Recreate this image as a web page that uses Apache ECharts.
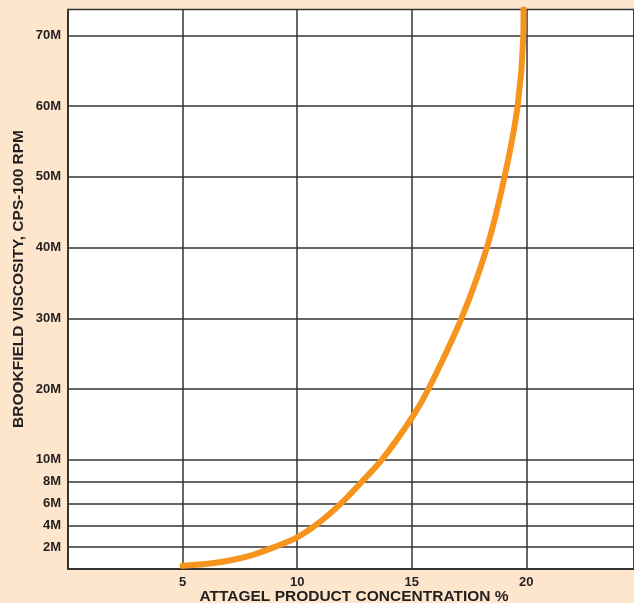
<!DOCTYPE html>
<html>
<head>
<meta charset="utf-8">
<script src="https://cdn.jsdelivr.net/npm/echarts@6/dist/echarts.min.js"></script>
<style>
html,body{margin:0;padding:0;background:#FDE6CC;}
#chart{width:634px;height:603px;}
</style>
</head>
<body>
<div id="chart"></div>
<script>
// ---- data ----
const xTickValues = [5, 10, 15, 20];
const yTickValues = [2, 4, 6, 8, 10, 20, 30, 40, 50, 60, 70];
const yTickLabels = ['2M', '4M', '6M', '8M', '10M', '20M', '30M', '40M', '50M', '60M', '70M'];
const concentration = [5, 6, 7, 8, 9, 10, 10.9, 11.88, 12.83, 13.7, 15, 15.73, 17.17, 18.28, 19.05, 19.62, 19.87, 19.88];
const viscosityM   = [0.3, 0.45, 0.75, 1.25, 2.0, 2.9, 4.15, 5.93, 8, 10, 15.9, 20, 30, 40, 50, 60, 70, 73.7];
const xTitle = 'ATTAGEL PRODUCT CONCENTRATION %';
const yTitle = 'BROOKFIELD VISCOSITY, CPS-100 RPM';

// Broken (piecewise-linear) viscosity scale as printed: 0-10M expanded, 10M-70M compressed
function scaleY(v) { return v <= 10 ? v * 10.93 : 109.3 + (v - 10) * 7.07; }

const gridColor = '#333';
const textColor = '#231f20';
const font = 'Liberation Sans, Arial, Helvetica, sans-serif';

const chart = echarts.init(document.getElementById('chart'), null, {renderer: 'canvas'});
chart.setOption({
  animation: false,
  backgroundColor: '#FDE6CC',
  grid: {
    left: 68, right: 0, top: 9.5, bottom: 34,
    show: true, backgroundColor: '#ffffff', borderColor: gridColor, borderWidth: 1.5
  },
  xAxis: {
    type: 'value', min: 0, max: 24.7, interval: 5,
    axisLine: {show: true, lineStyle: {color: gridColor, width: 2}},
    axisTick: {show: false},
    splitLine: {show: true, lineStyle: {color: gridColor, width: 1.5}},
    axisLabel: {
      show: true, margin: 7, color: textColor, fontWeight: 'bold', fontSize: 13, fontFamily: font,
      showMinLabel: false, showMaxLabel: false,
      formatter: v => xTickValues.includes(v) ? String(v) : ''
    }
  },
  yAxis: {
    type: 'value', min: 0, max: 559.5,
    axisLine: {show: true, lineStyle: {color: gridColor, width: 1.5}},
    axisTick: {show: false},
    axisLabel: {show: false},
    splitLine: {show: false}
  },
  graphic: [
    {
      type: 'text', x: 19, y: 279, rotation: Math.PI / 2,
      style: {text: yTitle, fill: textColor, font: 'bold 15.5px ' + font, textAlign: 'center', textVerticalAlign: 'middle'}
    },
    {
      type: 'text', x: 354, y: 589,
      style: {text: xTitle, fill: textColor, font: 'bold 15.5px ' + font, textAlign: 'center', textVerticalAlign: 'top'}
    }
  ],
  series: [
    {
      type: 'line',
      data: [],
      markLine: {
        silent: true, symbol: 'none', animation: false,
        lineStyle: {color: gridColor, width: 1.5, type: 'solid'},
        label: {
          show: true, position: 'start', distance: 7, color: textColor,
          fontWeight: 'bold', fontSize: 13, fontFamily: font,
          formatter: p => p.name
        },
        emphasis: {disabled: true},
        data: yTickValues.map((v, i) => ({name: yTickLabels[i], yAxis: scaleY(v)}))
      }
    },
    {
      type: 'line',
      data: concentration.map((x, i) => [x, scaleY(viscosityM[i])]),
      smooth: 0.3,
      showSymbol: false, symbol: 'none',
      lineStyle: {color: '#F7941D', width: 6, cap: 'round', join: 'round'},
      z: 5
    }
  ]
});
</script>
</body>
</html>
